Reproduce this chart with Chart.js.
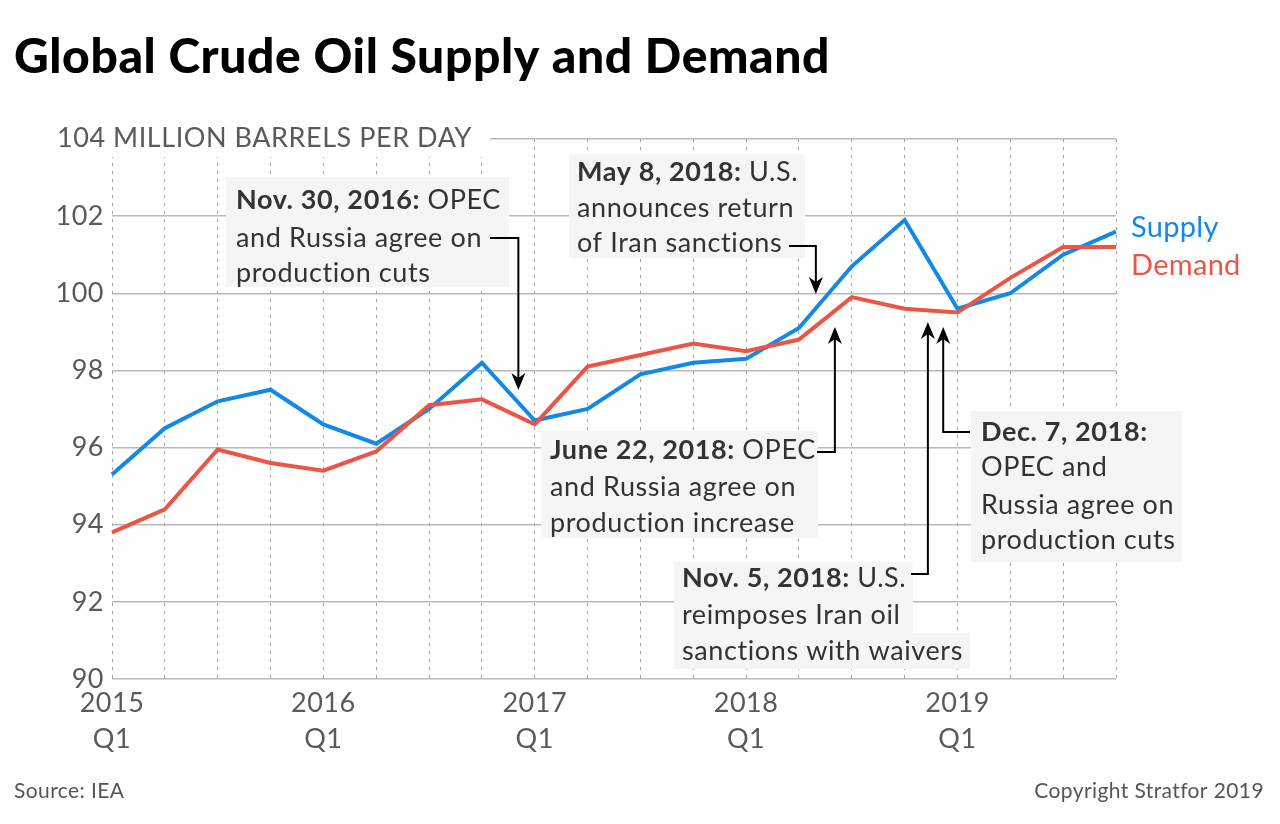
<!DOCTYPE html>
<html><head><meta charset="utf-8">
<script src="https://cdn.jsdelivr.net/npm/chart.js@4"></script>
<style>html,body{margin:0;padding:0;background:#fff}#wrap{width:1280px;height:824px;position:relative}</style>
</head><body><div id="wrap"><canvas id="c" width="1280" height="824"></canvas></div>
<script>
// ---- data ----
const quarters = ['2015 Q1','2015 Q2','2015 Q3','2015 Q4','2016 Q1','2016 Q2','2016 Q3','2016 Q4',
  '2017 Q1','2017 Q2','2017 Q3','2017 Q4','2018 Q1','2018 Q2','2018 Q3','2018 Q4',
  '2019 Q1','2019 Q2','2019 Q3','2019 Q4'];
const supply = [95.3,96.5,97.2,97.5,96.6,96.1,97.0,98.2,96.7,97.0,97.9,98.2,98.3,99.1,100.7,101.9,99.6,100.0,101.0,101.6];
const demand = [93.8,94.4,95.95,95.6,95.4,95.9,97.1,97.25,96.6,98.1,98.4,98.7,98.5,98.8,99.9,99.6,99.5,100.4,101.2,101.2];
const yTicks = [90,92,94,96,98,100,102,104];
const yUnitLabel = 'MILLION BARRELS PER DAY';
const seriesNames = ['Supply','Demand'];

const BLUE = '#1289e6', RED = '#ec5446';
const FONT = 'Lato, "Open Sans", sans-serif';

// annotations: quarter position (fractional index), text lines [bold, regular]
const notes = [
  {q:7.69, lines:[['Nov. 30, 2016:',' OPEC'],['','and Russia agree on'],['','production cuts']],
   box:[[226,177,509,287]], tx:236, ty:[200,238,273], path:[[490,238],[519,238]], tipY:390},
  {q:13.32, lines:[['May 8, 2018:',' U.S.'],['','announces return'],['','of Iran sanctions']],
   box:[[569,154,805,258]], tx:577, ty:[172,208,243], path:[[789,246],[816,246]], tipY:294},
  {q:13.68, lines:[['June 22, 2018:',' OPEC'],['','and Russia agree on'],['','production increase']],
   box:[[541,431,818,538]], tx:550, ty:[450,487,523], path:[[817,452],[835,452]], tipY:327},
  {q:15.44, lines:[['Nov. 5, 2018:',' U.S.'],['','reimposes Iran oil'],['','sanctions with waivers']],
   box:[[674,562,913,634],[674,633,970,669]], tx:682, ty:[578,615,651], path:[[911,574],[928,574]], tipY:322},
  {q:15.73, lines:[['Dec. 7, 2018:',''],['','OPEC and'],['','Russia agree on'],['','production cuts']],
   box:[[971,411,1182,562]], tx:981, ty:[432,467,505,540], path:[[970,432],[943,432]], tipY:327}
];

function arrowHead(ctx, x, y, dir){ // dir: 1 = pointing down, -1 = up
  ctx.beginPath();
  ctx.moveTo(x, y);
  ctx.lineTo(x-7, y-17*dir);
  ctx.lineTo(x, y-12*dir);
  ctx.lineTo(x+7, y-17*dir);
  ctx.closePath();
  ctx.fill();
}

const deco = {
  id:'deco',
  beforeDraw(chart){ chart.ctx.letterSpacing = '0.5px'; },
  beforeDatasetsDraw(chart){
    const ctx = chart.ctx, ys = chart.scales.y;
    ctx.save();
    // unit label at top tick
    const y104 = ys.getPixelForValue(104);
    ctx.fillStyle = '#fff';
    ctx.fillRect(40, y104-22, 450, 40);
    ctx.fillStyle = '#5a5a5a';
    ctx.font = '27px ' + FONT;
    ctx.letterSpacing = '0.55px';
    ctx.textBaseline = 'middle';
    ctx.textAlign = 'left';
    ctx.fillText('104 ' + yUnitLabel, 57, y104 - 1);
    // annotation boxes & text
    ctx.letterSpacing = '0.6px';
    notes.forEach(n=>{
      ctx.fillStyle = '#f5f5f5';
      n.box.forEach(b=>ctx.fillRect(b[0], b[1], b[2]-b[0], b[3]-b[1]));
      ctx.fillStyle = '#333';
      n.lines.forEach((ln,i)=>{
        let x = n.tx;
        if (ln[0]) { ctx.font = 'bold 27px ' + FONT; ctx.fillText(ln[0], x, n.ty[i]); x += ctx.measureText(ln[0]).width; }
        if (ln[1]) { ctx.font = '27px ' + FONT; ctx.fillText(ln[1], x, n.ty[i]); }
      });
    });
    ctx.restore();
  },
  afterDatasetsDraw(chart){
    const ctx = chart.ctx, ys = chart.scales.y, xs = chart.scales.x;
    ctx.save();
    // title
    ctx.fillStyle = '#000';
    ctx.font = '900 48px ' + FONT;
    ctx.letterSpacing = '0.6px';
    ctx.textBaseline = 'alphabetic';
    ctx.fillText('Global Crude Oil Supply and Demand', 14, 73);
    // source / copyright
    ctx.fillStyle = '#555';
    ctx.font = '21px ' + FONT;
    ctx.letterSpacing = '0.4px';
    ctx.fillText('Source: IEA', 14, 798);
    ctx.textAlign = 'right';
    ctx.fillText('Copyright Stratfor 2019', 1264, 798);
    // legend at line ends
    ctx.textAlign = 'left';
    ctx.textBaseline = 'middle';
    ctx.font = '29px ' + FONT;
    ctx.letterSpacing = '0.3px';
    const lx = chart.chartArea.right + 15;
    ctx.fillStyle = BLUE;
    ctx.fillText(seriesNames[0], lx, ys.getPixelForValue(supply[supply.length-1]) - 4);
    ctx.fillStyle = RED;
    ctx.fillText(seriesNames[1], lx, ys.getPixelForValue(demand[demand.length-1]) + 19);
    // arrows
    ctx.strokeStyle = '#000'; ctx.fillStyle = '#000'; ctx.lineWidth = 2;
    notes.forEach(n=>{
      const ax = xs.getPixelForValue(n.q);
      const p = n.path;
      ctx.beginPath();
      ctx.moveTo(p[0][0], p[0][1]);
      ctx.lineTo(ax, p[1][1]);
      const dir = n.tipY > p[1][1] ? 1 : -1;
      ctx.lineTo(ax, n.tipY - 12*dir);
      ctx.stroke();
      arrowHead(ctx, ax, n.tipY, dir);
    });
    ctx.restore();
  }
};

new Chart(document.getElementById('c'), {
  type:'line',
  data:{ labels: quarters, datasets:[
    {label:seriesNames[0], data:supply, borderColor:BLUE, borderWidth:4, pointRadius:0, tension:0, order:1, fill:false},
    {label:seriesNames[1], data:demand, borderColor:RED, borderWidth:4, pointRadius:0, tension:0, order:0, fill:false}
  ]},
  options:{
    responsive:false, animation:false, devicePixelRatio:1,
    layout:{padding:{top:139, right:164, left:0, bottom:0}},
    plugins:{legend:{display:false}, tooltip:{enabled:false}, title:{display:false}},
    scales:{
      x:{
        type:'category',
        afterFit(s){ s.height = 145; },
        grid:{color:'#a0a0a0', lineWidth:1, drawTicks:false},
        border:{display:false, dash:[3,5]},
        ticks:{autoSkip:false, maxRotation:0, padding:6, color:'#5a5a5a', font:{family:FONT, size:27, lineHeight:1.35},
          callback(v, i){ const l = quarters[i]; return l.endsWith('Q1') ? [l.slice(0,4), 'Q1'] : ''; }}
      },
      y:{
        min:90, max:104,
        afterFit(s){ s.width = 112; },
        afterBuildTicks(s){ s.ticks = yTicks.map(v=>({value:v})); },
        grid:{color:'#b8b8b8', lineWidth:1.5, drawTicks:false},
        border:{display:false},
        ticks:{padding:8, color:'#5a5a5a', font:{family:FONT, size:27},
          callback(v){ return v === 104 ? '' : String(v); }}
      }
    }
  },
  plugins:[deco]
});
</script></body></html>
